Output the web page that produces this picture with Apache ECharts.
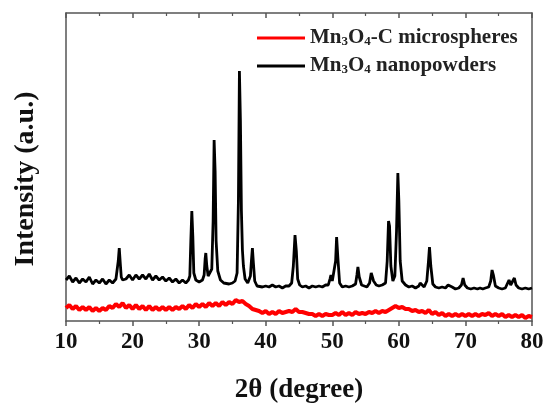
<!DOCTYPE html>
<html>
<head>
<meta charset="utf-8">
<script src="https://cdn.jsdelivr.net/npm/echarts@6/dist/echarts.min.js"></script>
<style>
html,body{margin:0;padding:0;background:#fff;}
#chart{width:545px;height:403px;}
</style>
</head>
<body>
<div id="chart"></div>
<script>
// 2θ (degree) tick labels
var xTicks = [10, 20, 30, 40, 50, 60, 70, 80];

// Mn3O4 nanopowders (black)
var nanoTheta = [10,10.5,11,11.5,12,12.5,13,13.5,14,14.5,15,15.5,16,16.5,17,17.5,17.7,17.85,18.0,18.15,18.3,18.5,
19,19.5,20,20.5,21,21.5,22,22.5,23,23.5,24,24.5,25,25.5,26,26.5,27,27.5,28,28.4,
28.6,28.75,28.9,29.05,29.2,29.5,30,30.5,30.75,30.9,31.0,31.15,31.35,31.6,31.9,
32.1,32.25,32.4,32.55,32.8,33.2,33.7,34,34.5,35,35.4,35.7,
35.9,36.05,36.2,36.35,36.5,36.65,36.9,37.3,37.7,
37.85,38.0,38.15,38.35,38.7,39,39.5,40,40.5,41,41.5,42,42.5,43,43.5,43.9,44.15,44.4,44.6,44.8,45.1,45.5,46,46.5,47,47.5,48,48.5,49,49.4,49.65,49.8,50.0,50.3,50.5,50.65,50.85,51.1,51.5,52,52.5,53,53.5,53.7,53.85,54.05,54.4,54.8,55.2,55.6,55.85,56.0,56.2,56.6,57,57.5,58,58.25,58.45,58.6,58.8,59.1,59.4,59.65,59.85,60.0,60.2,60.5,61,61.5,62,62.5,63,63.2,63.4,63.8,64.2,64.45,64.6,64.8,65.1,65.5,66,66.5,67,67.4,67.7,68.0,68.5,69,69.4,69.65,69.9,70.3,70.8,71.3,71.8,72.2,72.4,72.6,73,73.5,73.8,74.0,74.2,74.5,75,75.5,76,76.3,76.55,76.8,77.1,77.35,77.6,78,78.5,79,79.5,80];
var nanoIntensity = [41,45,39,43,38,42,39,44,37,41,38,42,37,41,38,42,44,60,73,58,44,41,
42,46,41,46,42,46,42,47,41,45,41,44,40,43,39,42,38,41,38,41,
45,80,110,85,48,41,39,41,46,62,68,55,45,44,52,
100,181,150,80,50,41,38,39,37,38,40,48,
120,250,200,110,71,55,42,38,45,
60,73,58,40,35,36,34,35,34,36,34,35,33,35,35,38,55,86,70,42,36,34,35,33,35,34,35,34,36,36,42,46,40,40,60,84,62,38,34,35,34,35,37,46,54,44,36,35,34,38,48,50,40,36,35,36,38,60,100,95,55,40,45,90,148,120,60,40,36,34,35,33,35,38,36,34,40,60,74,55,37,34,33,34,33,36,38,34,32,33,36,43,36,33,32,33,32,33,35,32,33,34,40,51,46,35,33,32,33,35,41,36,36,43,36,33,32,33,32,33];

// Mn3O4-C microspheres (red)
var microTheta = [10,10.5,11,11.5,12,12.5,13,13.5,14,14.5,15,15.5,16,16.5,17,17.5,18,18.5,19,19.5,20,20.5,21,21.5,22,22.5,23,23.5,24,24.5,25,25.5,26,26.5,27,27.5,28,28.5,29,29.5,30,30.5,31,31.5,32,32.5,33,33.5,34,34.5,35,35.5,36,36.5,37,37.5,38,38.5,39,39.5,40,40.5,41,41.5,42,42.5,43,43.5,44,44.5,45,45.5,46,46.5,47,47.5,48,48.5,49,49.5,50,50.5,51,51.5,52,52.5,53,53.5,54,54.5,55,55.5,56,56.5,57,57.5,58,58.5,59,59.5,60,60.5,61,61.5,62,62.5,63,63.5,64,64.5,65,65.5,66,66.5,67,67.5,68,68.5,69,69.5,70,70.5,71,71.5,72,72.5,73,73.5,74,74.5,75,75.5,76,76.5,77,77.5,78,78.5,79,79.5,80];
var microIntensity = [13,16,12,15,11,14,11,14,10,13,
10,13,11,15,13,17,14,18,13,16,
12,16,12,15,11,15,11,14,11,14,
11,14,11,14,12,15,12,16,13,17,
14,17,14,18,15,18,15,19,16,19,
17,21,19,20,17,15,12,11,10,8,
10,7,9,7,10,8,9,10,9,12,
9,9,8,7,7,5,7,5,7,6,
6,8,6,9,6,8,6,9,7,8,
7,9,8,10,8,10,9,11,13,15,
13,14,12,12,10,11,9,10,8,11,
7,9,6,8,5,7,5,7,5,7,
5,7,5,7,5,7,6,8,5,7,
5,7,4,6,4,6,4,6,3,5,
4];

var seriesNames = ['Mn3O4-C microspheres', 'Mn3O4 nanopowders'];
var seriesColors = ['#ff0000', '#000000'];

function zip(a, b) { return a.map(function (v, i) { return [v, b[i]]; }); }

var serif = 'Liberation Serif, Times New Roman, serif';
var axisColor = '#555';

var chart = echarts.init(document.getElementById('chart'));
chart.setOption({
  backgroundColor: '#fff',
  animation: false,
  grid: { left: 66, right: 13, top: 13, bottom: 82, show: false, containLabel: false, outerBoundsMode: 'none' },
  legend: {
    orient: 'vertical',
    left: 252, top: 21,
    itemWidth: 48, itemHeight: 3, itemGap: 4,
    icon: 'rect',
    data: seriesNames,
    formatter: function (name) { return name.replace(/(\d)/g, '{sub|$1}'); },
    textStyle: {
      fontFamily: serif, fontWeight: 'bold', fontSize: 21, color: '#222', lineHeight: 24,
      rich: { sub: { fontFamily: serif, fontWeight: 'bold', fontSize: 13, color: '#222', verticalAlign: 'bottom', padding: [0, 0, 2, 0] } }
    }
  },
  xAxis: [{
    type: 'value', min: 10, max: 80, interval: 10, position: 'bottom',
    axisLine: { show: true, onZero: false, lineStyle: { color: axisColor, width: 1.5 } },
    axisTick: { show: true, inside: false, length: 5, lineStyle: { color: axisColor, width: 1.5 } },
    minorTick: { show: true, splitNumber: 2, length: 3, lineStyle: { color: axisColor, width: 1.2 } },
    splitLine: { show: false },
    axisLabel: { fontFamily: serif, fontWeight: 'bold', fontSize: 23, color: '#111', margin: 10,
      formatter: function (v) { return xTicks.indexOf(v) >= 0 ? String(v) : ''; } },
    name: '2θ (degree)', nameLocation: 'middle', nameGap: 56,
    nameTextStyle: { fontFamily: serif, fontWeight: 'bold', fontSize: 27, color: '#111' }
  }, {
    type: 'value', min: 10, max: 80, interval: 10, position: 'top',
    axisLine: { show: true, onZero: false, lineStyle: { color: axisColor, width: 1.5 } },
    axisTick: { show: true, inside: true, length: 5, lineStyle: { color: axisColor, width: 1.5 } },
    minorTick: { show: true, splitNumber: 2, length: 3, lineStyle: { color: axisColor, width: 1.2 } },
    splitLine: { show: false },
    axisLabel: { show: false }
  }],
  yAxis: [{
    type: 'value', min: 0, max: 308, position: 'left',
    axisLine: { show: true, onZero: false, lineStyle: { color: axisColor, width: 1.5 } },
    axisTick: { show: false }, axisLabel: { show: false }, splitLine: { show: false },
    name: 'Intensity (a.u.)', nameLocation: 'middle', nameGap: 26,
    nameTextStyle: { fontFamily: serif, fontWeight: 'bold', fontSize: 28, color: '#111', padding: [0, 24, 0, 0] }
  }, {
    type: 'value', min: 0, max: 308, position: 'right',
    axisLine: { show: true, onZero: false, lineStyle: { color: axisColor, width: 1.5 } },
    axisTick: { show: false }, axisLabel: { show: false }, splitLine: { show: false }
  }],
  series: [{
    name: seriesNames[0], type: 'line', showSymbol: false, symbol: 'none',
    data: zip(microTheta, microIntensity),
    lineStyle: { color: seriesColors[0], width: 4 }, itemStyle: { color: seriesColors[0] }
  }, {
    name: seriesNames[1], type: 'line', showSymbol: false, symbol: 'none',
    data: zip(nanoTheta, nanoIntensity),
    lineStyle: { color: seriesColors[1], width: 2.8 }, itemStyle: { color: seriesColors[1] }
  }]
});
</script>
</body>
</html>
